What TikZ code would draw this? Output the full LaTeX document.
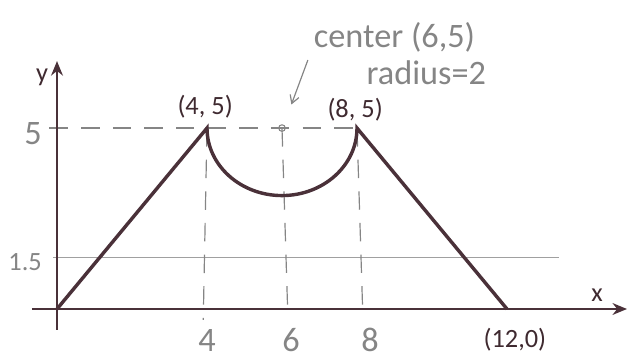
\documentclass[tikz,border=0pt]{standalone}
\usepackage{fontspec}
\setmainfont{Carlito}
\usepackage{xcolor}
\usetikzlibrary{arrows.meta}
\definecolor{inkdark}{HTML}{4A3139}
\definecolor{pencil}{HTML}{858585}
\definecolor{guide}{HTML}{A0A0A0}
\tikzset{
  axis/.style={inkdark, line width=1.5pt, -{Stealth[length=11pt, width=9pt]}},
  curve/.style={inkdark, line width=2.6pt, line join=miter},
  guideline/.style={pencil, line width=0.9pt, dash pattern=on 14pt off 10pt},
  hand/.style={pencil, font=\fontsize{26}{28}\selectfont},
  pointlabel/.style={inkdark!85!black, font=\fontsize{20}{22}\selectfont}
}
\begin{document}
\begin{tikzpicture}[x=1cm, y=0.965cm]
\useasboundingbox (-1.52cm,-1.36cm) rectangle (15.387cm,8.24cm);
\coordinate (O) at (0,0);
\coordinate (P) at (4,5);
\coordinate (C) at (6,5);
\coordinate (Q) at (8,5);
\coordinate (R) at (12,0);
\coordinate (xs) at (-0.67,0);
\coordinate (xe) at (15.2,0);
\coordinate (ys) at (0,-0.58);
\coordinate (ye) at (0,6.85);
\coordinate (h5) at (-0.2,5);
\coordinate (la) at (-0.1,1.42);
\coordinate (lb) at (13.4,1.42);
\coordinate (P0) at (3.9,-0.3);
\coordinate (C0) at (6.15,0);
\coordinate (Q0) at (8.15,0);
\coordinate (tail) at (6.69,6.88);
\coordinate (head) at (6.25,5.65);

\draw[guide, line width=1.1pt] (la) -- (lb);
\draw[guideline] (h5) -- (Q);
\draw[guideline] (P) -- (P0);
\draw[guideline] (C) -- (C0);
\draw[guideline] (Q) -- (Q0);

\draw[axis] (xs) -- (xe);
\draw[axis] (ys) -- (ye);

\draw[curve] (O) -- (P) arc[start angle=180, end angle=360, x radius=2cm, y radius=1.8cm] -- (R);

\node[draw=pencil, circle, inner sep=0pt, minimum size=5pt, line width=0.8pt] (dot) at (C) {};
\draw[pencil, line width=0.9pt, -{Straight Barb[length=6pt, width=7pt]}] (tail) -- (head);

\node[pointlabel] (lP) at (3.95,5.58) {(4, 5)};
\node[pointlabel] (lQ) at (7.95,5.5) {(8, 5)};
\node[pointlabel] (lR) at (12.21,-0.84) {(12,0)};
\node[pointlabel] (lx) at (14.4,0.38) {x};
\node[pointlabel] (ly) at (-0.4,6.4) {y};

\node[hand] (t5) at (-0.64,4.86) {5};
\node[hand, font=\fontsize{20}{22}\selectfont] (t15) at (-0.85,1.3) {1.5};
\node[hand] (t4) at (4.0,-0.86) {4};
\node[hand] (t6) at (6.24,-0.86) {6};
\node[hand] (t8) at (8.35,-0.86) {8};
\node[hand] (tc) at (9.0,7.5) {center (6,5)};
\node[hand] (tr) at (9.85,6.52) {radius=2};
\end{tikzpicture}
\end{document}
